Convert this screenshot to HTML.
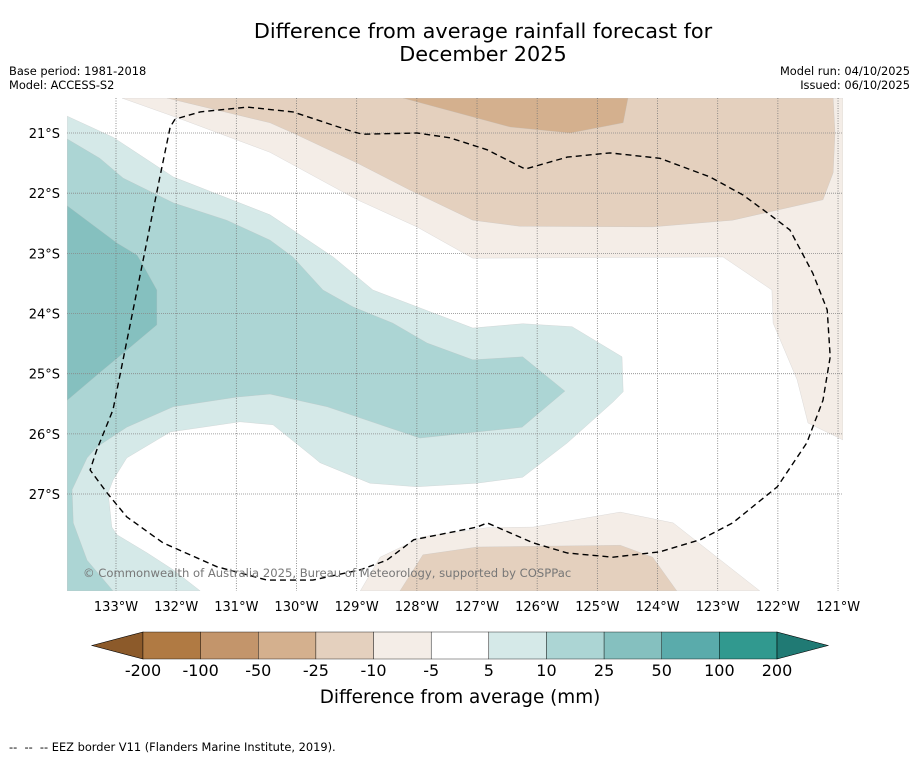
<!DOCTYPE html>
<html><head><meta charset="utf-8">
<style>
html,body{margin:0;padding:0;background:#fff;}
body{width:919px;height:758px;overflow:hidden;font-family:"Liberation Sans","DejaVu Sans",sans-serif;}
svg text{font-family:"DejaVu Sans","Liberation Sans",sans-serif;}
</style></head>
<body>
<svg id="chart" width="919" height="758" viewBox="0 0 919 758" xmlns="http://www.w3.org/2000/svg">
<text x="483" y="38" font-size="20.8" text-anchor="middle" fill="#000">Difference from average rainfall forecast for</text>
<text x="483" y="61" font-size="20.8" text-anchor="middle" fill="#000">December 2025</text>
<text x="9" y="75" font-size="11.4">Base period: 1981-2018</text>
<text x="9" y="89" font-size="11.4">Model: ACCESS-S2</text>
<text x="910" y="75" font-size="11.4" text-anchor="end">Model run: 04/10/2025</text>
<text x="910" y="89" font-size="11.4" text-anchor="end">Issued: 06/10/2025</text>
<defs><clipPath id="mapclip"><rect x="67" y="98" width="776" height="493"/></clipPath></defs>
<g id="map" clip-path="url(#mapclip)">
<rect x="67" y="98" width="776" height="493" fill="#fff"/>
<g id="fills"></g>
<g id="grid"></g>
<g id="eez"></g>
<text x="83" y="577" font-size="11.6" fill="#777">© Commonwealth of Australia 2025, Bureau of Meteorology, supported by COSPPac</text>
</g>
<g id="axes"></g>
<g id="colorbar"></g>
<text x="460" y="703" font-size="18.4" text-anchor="middle">Difference from average (mm)</text>
<text x="9" y="751" font-size="11.4" xml:space="preserve" style="white-space:pre">--  --  -- EEZ border V11 (Flanders Marine Institute, 2019).</text>
</svg>
<script>
// ---- data (lon in °W, lat in °S) ----
const lonTicks = [133,132,131,130,129,128,127,126,125,124,123,122,121];
const latTicks = [21,22,23,24,25,26,27];
const cbLevels = ["-200","-100","-50","-25","-10","-5","5","10","25","50","100","200"];
const cbColors = ["#b07a43","#c3956b","#d4b08e","#e4d0be","#f4ede7","#ffffff","#d5e9e8","#acd5d4","#85c0bf","#5aabab","#31998f"];
const cbExtendLow = "#8c5a2a";
const cbExtendHigh = "#207a74";
const contourLevels = [-10,-25,-50,-10,-25,5,10,25];
const contourColors = ["#f4ede7","#e4d0be","#d4b08e","#f4ede7","#e4d0be","#d5e9e8","#acd5d4","#85c0bf"];
const contourNames = ["north-dry-minus5","north-dry-minus10","north-dry-minus25","south-dry-minus5","south-dry-minus10","wet-plus5","wet-plus10","wet-plus25"];
const contourPolys = [
 [[132.90,20.42],[131.97,20.75],[130.44,21.32],[128.99,22.11],[128.00,22.56],[127.07,23.08],[122.91,23.06],[122.10,23.61],[122.08,24.16],[121.68,25.10],[121.50,25.82],[120.92,26.10],[120.92,20.42]],
 [[132.15,20.42],[130.44,20.83],[130.06,21.00],[128.99,21.50],[128.11,21.95],[127.07,22.45],[126.29,22.55],[124.08,22.56],[122.75,22.45],[121.25,22.11],[121.08,21.66],[121.05,21.00],[121.08,20.42]],
 [[128.23,20.42],[126.45,20.90],[125.45,21.00],[124.57,20.83],[124.49,20.42]],
 [[128.94,28.61],[128.61,28.05],[127.90,27.71],[126.83,27.56],[126.07,27.55],[124.62,27.30],[123.74,27.48],[122.30,28.61]],
 [[128.28,28.61],[127.90,28.01],[127.00,27.88],[124.62,27.85],[124.08,28.05],[123.68,28.61]],
 [[133.81,20.72],[133.05,21.07],[132.05,21.73],[130.44,22.36],[129.39,23.06],[128.73,23.61],[127.07,24.24],[126.24,24.17],[125.42,24.22],[124.59,24.72],[124.57,25.30],[124.74,25.47],[125.50,26.15],[126.24,26.72],[127.00,26.82],[128.00,26.88],[128.78,26.82],[129.61,26.48],[129.73,26.38],[130.39,25.85],[130.94,25.80],[132.10,25.97],[132.82,26.40],[133.05,26.77],[133.13,26.98],[133.07,27.55],[132.98,27.68],[132.48,27.98],[132.05,28.26],[131.60,28.61],[133.81,28.61]],
 [[133.81,21.10],[133.27,21.42],[132.88,21.75],[132.05,22.16],[131.16,22.45],[130.44,22.78],[130.06,23.06],[129.56,23.61],[129.06,23.89],[128.40,24.16],[127.83,24.49],[127.07,24.77],[126.24,24.72],[125.54,25.29],[126.25,25.89],[127.00,25.97],[127.95,26.07],[129.49,25.55],[130.44,25.34],[130.99,25.39],[132.05,25.55],[132.82,25.89],[133.32,26.22],[133.48,26.40],[133.73,26.93],[133.71,27.48],[133.48,28.10],[133.05,28.61],[133.81,28.61]],
 [[133.81,22.21],[133.38,22.53],[132.98,22.83],[132.65,23.03],[132.57,23.16],[132.32,23.61],[132.32,24.19],[132.82,24.61],[133.22,24.94],[133.81,25.44]]
];
const eezLine = [[132.02,20.77],[132.10,20.90],[132.27,21.73],[132.65,23.61],[133.05,25.60],[133.32,26.27],[133.43,26.60],[133.15,26.98],[132.82,27.38],[132.22,27.81],[131.32,28.21],[130.49,28.43],[129.73,28.43],[128.94,28.26],[128.50,28.10],[128.05,27.76],[127.00,27.55],[126.83,27.48],[126.07,27.81],[125.50,27.98],[124.74,28.05],[123.96,27.96],[123.29,27.76],[122.75,27.48],[122.01,26.88],[121.52,26.15],[121.25,25.44],[121.13,24.72],[121.18,23.94],[121.42,23.33],[121.80,22.61],[122.13,22.36],[122.58,22.03],[123.13,21.73],[123.96,21.42],[124.79,21.33],[125.50,21.40],[126.20,21.60],[126.83,21.28],[127.45,21.08],[128.00,21.00],[128.90,21.02],[129.06,20.98],[130.06,20.65],[130.82,20.57],[131.60,20.65],[132.02,20.77]];

// ---- projection ----
const S = 60.17;
const xOf = lon => 116 + (133 - lon) * S;
const yOf = lat => 133 + (lat - 21) * S;
const NS = "http://www.w3.org/2000/svg";
function mk(tag, attrs, parent){const e=document.createElementNS(NS,tag);for(const k in attrs)e.setAttribute(k,attrs[k]);parent.appendChild(e);return e;}
const pts = arr => arr.map(p => xOf(p[0]).toFixed(1)+","+yOf(p[1]).toFixed(1)).join(" ");

const fills = document.getElementById("fills");
contourPolys.forEach((poly,i)=>{
  const p = mk("polygon",{points:pts(poly),fill:contourColors[i],stroke:"#bbb","stroke-width":"0.4","stroke-opacity":"0.6"},fills);
  
  
});

const grid = document.getElementById("grid");
const axes = document.getElementById("axes");
lonTicks.forEach(l=>{
  const x = xOf(l);
  const g = mk("line",{x1:x,y1:98,x2:x,y2:591,stroke:"#777","stroke-width":"0.8","stroke-dasharray":"1,1.5"},grid);
  
  
  const t = mk("text",{x:x,y:611,"font-size":"13","text-anchor":"middle"},axes);
  t.textContent = l + "°W";
  
  
});
latTicks.forEach(l=>{
  const y = yOf(l);
  const g = mk("line",{x1:67,y1:y,x2:843,y2:y,stroke:"#888","stroke-width":"0.8","stroke-dasharray":"1,1"},grid);
  
  
  const t = mk("text",{x:60,y:y+5,"font-size":"13","text-anchor":"end"},axes);
  t.textContent = l + "°S";
  
  
});

const eez = mk("polyline",{points:pts(eezLine),fill:"none",stroke:"#000","stroke-width":"1.4","stroke-dasharray":"6,4","stroke-linejoin":"round"},document.getElementById("eez"));



// ---- colorbar ----
const cb = document.getElementById("colorbar");
const cbX0 = 143, cbX1 = 777, cbY = 632, cbH = 27;
const bw = (cbX1 - cbX0) / cbColors.length;
const lo = mk("polygon",{points:`${cbX0},${cbY} ${cbX0},${cbY+cbH} 92,${cbY+cbH/2}`,fill:cbExtendLow,stroke:"#000","stroke-width":"0.6"},cb);


cbColors.forEach((c,i)=>{
  const r = mk("rect",{x:cbX0+i*bw,y:cbY,width:bw,height:cbH,fill:c,stroke:"#000","stroke-width":"0.4"},cb);
  
  
});
const hi = mk("polygon",{points:`${cbX1},${cbY} ${cbX1},${cbY+cbH} 828,${cbY+cbH/2}`,fill:cbExtendHigh,stroke:"#000","stroke-width":"0.6"},cb);


cbLevels.forEach((v,i)=>{
  const t = mk("text",{x:cbX0+i*bw,y:676,"font-size":"16","text-anchor":"middle"},cb);
  t.textContent = v;
  
  
});
</script>
</body></html>
